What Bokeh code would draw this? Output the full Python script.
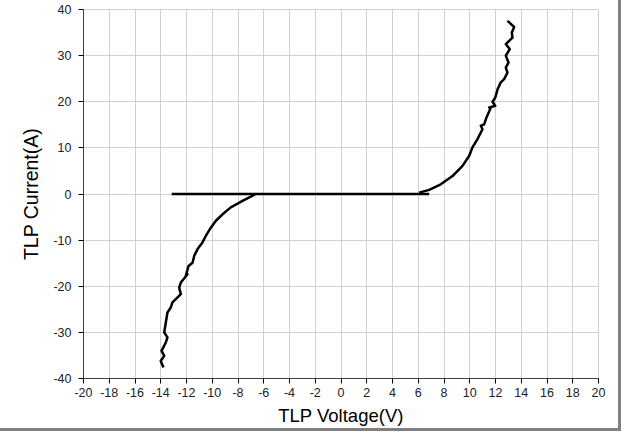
from bokeh.plotting import figure
from bokeh.models import Range1d, FixedTicker
from bokeh.embed import file_html
from bokeh.resources import INLINE

# ---- data ----
x_ticks = list(range(-20, 21, 2))
y_ticks = list(range(-40, 41, 10))
x_title = "TLP Voltage(V)"
y_title = "TLP Current(A)"

flat_v = [-13.15, -10.0, -6.6, 0.0, 6.0, 6.85]
flat_i = [0.0, 0.0, 0.0, 0.0, 0.0, 0.0]

neg_v = [-6.62, -7.65, -8.56, -9.2, -9.72, -10.11, -10.5, -10.76, -11.15, -11.4,
         -11.53, -11.84, -12.05, -11.92, -12.44, -12.57, -12.44, -13.09, -13.22,
         -13.48, -13.61, -13.73, -13.48, -13.61, -13.94, -13.73, -14.0, -13.79]
neg_i = [0.0, -1.5, -2.9, -4.4, -5.8, -7.3, -9.1, -10.5, -12.0, -13.4,
         -14.9, -15.6, -17.7, -17.4, -19.2, -20.3, -21.7, -23.5, -24.6,
         -25.7, -27.9, -30.0, -31.1, -32.2, -34.0, -35.1, -36.2, -37.6]

pos_v = [6.07, 6.85, 7.75, 8.66, 9.44, 9.96, 10.21, 10.6, 10.99, 10.86, 11.12,
         11.3, 11.64, 11.51, 11.98, 11.77, 11.98, 12.16, 12.41, 12.67, 12.93,
         12.8, 13.01, 12.8, 13.11, 12.8, 13.32, 13.27, 13.45, 12.93]
pos_i = [0.3, 0.9, 2.1, 3.9, 6.1, 8.3, 10.1, 11.9, 14.05, 14.8, 15.1,
         16.6, 18.75, 18.75, 19.1, 20.0, 20.9, 22.7, 24.2, 24.9, 26.3,
         27.4, 28.5, 30.0, 31.4, 32.5, 33.9, 35.0, 36.2, 37.55]

FONT = "Liberation Sans"

p = figure(width=618, height=428, output_backend="svg", toolbar_location=None,
           x_range=Range1d(-20, 20), y_range=Range1d(-40, 40),
           min_border_left=83, min_border_right=20, min_border_top=9,
           min_border_bottom=50)
p.styles = {"outline": "3px solid #808080"}
p.outline_line_color = "#d0d0d0"
p.background_fill_color = "white"
p.border_fill_color = "white"

p.xaxis.ticker = FixedTicker(ticks=x_ticks)
p.yaxis.ticker = FixedTicker(ticks=y_ticks)
p.xgrid.ticker = FixedTicker(ticks=x_ticks)
p.ygrid.ticker = FixedTicker(ticks=y_ticks)
p.xaxis.major_label_overrides = {t: str(t) for t in x_ticks}
p.yaxis.major_label_overrides = {t: str(t) for t in y_ticks}

for ax in (p.xaxis, p.yaxis):
    ax.axis_line_color = "#404040"
    ax.major_tick_line_color = "black"
    ax.major_tick_out = 5
    ax.major_tick_in = 0
    ax.minor_tick_line_color = None
    ax.major_label_text_font = FONT
    ax.major_label_text_font_size = "12.5px"
    ax.major_label_text_color = "#222222"
    ax.axis_label_text_font = FONT
    ax.axis_label_text_font_style = "normal"
    ax.axis_label_text_color = "black"

p.xaxis.axis_label = x_title
p.yaxis.axis_label = y_title
p.xaxis.axis_label_text_font_size = "18.5px"
p.yaxis.axis_label_text_font_size = "19.5px"
p.xaxis.major_label_standoff = 4
p.yaxis.major_label_standoff = 7
p.xaxis.axis_label_standoff = 5
p.yaxis.axis_label_standoff = 8

p.xgrid.grid_line_color = "#d0d0d0"
p.ygrid.grid_line_color = "#d0d0d0"

p.line(flat_v, flat_i, line_color="black", line_width=2.5)
p.line(neg_v, neg_i, line_color="black", line_width=2.5, line_join="round")
p.line(pos_v, pos_i, line_color="black", line_width=2.5, line_join="round")

open("out.html", "w").write(file_html(p, INLINE))
